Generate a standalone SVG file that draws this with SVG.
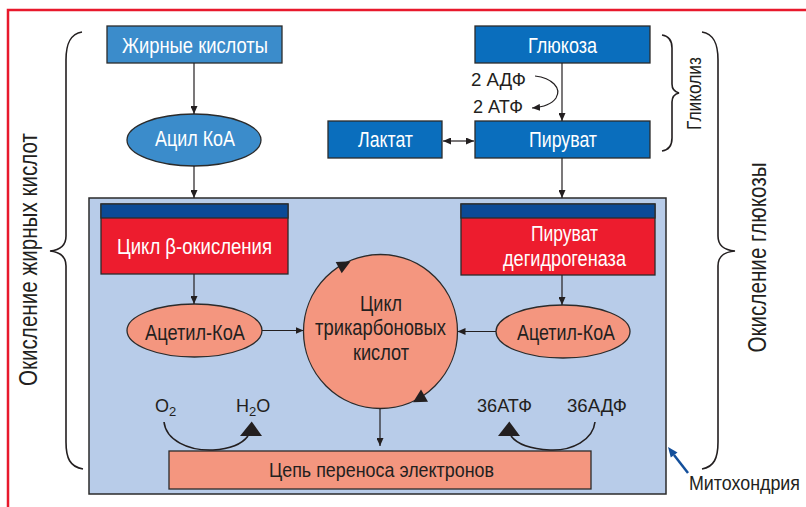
<svg xmlns="http://www.w3.org/2000/svg" width="806" height="507" viewBox="0 0 806 507">
<defs>
<marker id="ah" markerUnits="userSpaceOnUse" markerWidth="8" markerHeight="7" refX="8" refY="3.5" orient="auto-start-reverse">
<path d="M0,0 L8,3.5 L0,7 z" fill="#231f20"/>
</marker>
</defs>
<style>
.t{font-family:"Liberation Sans",Arial,sans-serif;fill:#231f20;text-anchor:middle}
.w{fill:#ffffff}
.s{stroke:#2b2b2b;stroke-width:1.3}
.lb{fill:#3b8ccb}
.db{fill:#0a6ebd}
.nv{fill:#0b4a96}
.rd{fill:#ed1c2e}
.sa{fill:#f4967f}
.ln{fill:none;stroke:#231f20;stroke-width:1.2}
.cv{fill:none;stroke:#231f20;stroke-width:1.6}
.br{fill:none;stroke:#231f20;stroke-width:1.6}
</style>
<rect x="0" y="0" width="806" height="507" fill="#ffffff"/>
<rect x="8" y="10" width="830" height="530" fill="none" stroke="#e8192c" stroke-width="2.5"/>

<g id="braces">
<path class="br" d="M82,32 C70,34 66,44 66,60 L66,236 C66,246 60,250 50,251 C60,252 66,256 66,266 L66,442 C66,458 70,467 83,469"/>
<text class="t" transform="translate(37,259.5) rotate(-90)" font-size="25" textLength="253" lengthAdjust="spacingAndGlyphs">Окисление жирных кислот</text>
<path class="br" d="M702,32 C714,34 718,44 718,60 L718,236 C718,246 724,250 735,251 C724,252 718,256 718,266 L718,442 C718,458 714,467 702,469"/>
<text class="t" transform="translate(766,257.5) rotate(-90)" font-size="25" textLength="190" lengthAdjust="spacingAndGlyphs">Окисление глюкозы</text>
<path class="br" d="M662,35 C669,36 672,41 672,48 L672,84 C672,89 675,92 679,93 C675,94 672,97 672,102 L672,138 C672,145 669,150 662,151"/>
<text class="t" transform="translate(701,93.5) rotate(-90)" font-size="20" textLength="73" lengthAdjust="spacingAndGlyphs">Гликолиз</text>
</g>

<g id="mitochondrion">
<rect x="89" y="198" width="577" height="296" fill="#b8cce9" stroke="#2b2b2b" stroke-width="1.5"/>
</g>

<g id="fatty-acids">
<rect class="lb s" x="107" y="26" width="175" height="37"/>
<text class="t w" x="195" y="52.5" font-size="21.5" textLength="146" lengthAdjust="spacingAndGlyphs">Жирные кислоты</text>
</g>
<g id="acyl-coa">
<ellipse class="lb s" cx="194" cy="140" rx="67" ry="26"/>
<text class="t w" x="195" y="146" font-size="21.5" textLength="80" lengthAdjust="spacingAndGlyphs">Ацил КоА</text>
</g>
<g id="glucose">
<rect class="db s" x="475" y="26" width="175" height="37"/>
<text class="t w" x="562.5" y="52.5" font-size="21.5" textLength="69" lengthAdjust="spacingAndGlyphs">Глюкоза</text>
</g>
<g id="lactate">
<rect class="db s" x="328" y="121" width="114" height="37"/>
<text class="t w" x="385.5" y="147" font-size="21.5" textLength="55" lengthAdjust="spacingAndGlyphs">Лактат</text>
</g>
<g id="pyruvate">
<rect class="db s" x="475" y="121" width="175" height="37"/>
<text class="t w" x="563" y="147" font-size="21.5" textLength="68" lengthAdjust="spacingAndGlyphs">Пируват</text>
</g>
<g id="atp-glycolysis">
<text class="t" x="498.5" y="86" font-size="19" textLength="55" lengthAdjust="spacingAndGlyphs">2 АДФ</text>
<text class="t" x="498" y="113" font-size="19" textLength="50" lengthAdjust="spacingAndGlyphs">2 АТФ</text>
</g>

<g id="beta-oxidation">
<rect class="rd s" x="101" y="204" width="187" height="70"/>
<rect class="nv s" x="101" y="204" width="187" height="14"/>
<text class="t w" x="194.5" y="253.5" font-size="21.5" textLength="155" lengthAdjust="spacingAndGlyphs">Цикл β-окисления</text>
</g>
<g id="pdh">
<rect class="rd s" x="461" y="204" width="194" height="71"/>
<rect class="nv s" x="461" y="204" width="194" height="14"/>
<text class="t w" x="564.5" y="240.5" font-size="21.5" textLength="67" lengthAdjust="spacingAndGlyphs">Пируват</text>
<text class="t w" x="564.5" y="265.5" font-size="21.5" textLength="123" lengthAdjust="spacingAndGlyphs">дегидрогеназа</text>
</g>
<g id="acetyl-coa-left">
<ellipse class="sa s" cx="194.5" cy="330.5" rx="67.5" ry="26.5"/>
<text class="t" x="195" y="339.5" font-size="21.5" textLength="100" lengthAdjust="spacingAndGlyphs">Ацетил-КоА</text>
</g>
<g id="acetyl-coa-right">
<ellipse class="sa s" cx="563" cy="331.5" rx="67" ry="26.5"/>
<text class="t" x="566" y="339.5" font-size="21.5" textLength="98" lengthAdjust="spacingAndGlyphs">Ацетил-КоА</text>
</g>
<g id="tca-cycle">
<circle class="sa s" cx="380.5" cy="331.5" r="77"/>
<polygon points="335.7,262 350.7,261.3 341.7,273.3" fill="#231f20"/>
<polygon points="421,389.5 413,402.3 428,401.7" fill="#231f20"/>
<text class="t" x="381" y="311" font-size="22" textLength="42" lengthAdjust="spacingAndGlyphs">Цикл</text>
<text class="t" x="380.5" y="335" font-size="22" textLength="131" lengthAdjust="spacingAndGlyphs">трикарбоновых</text>
<text class="t" x="381" y="360" font-size="22" textLength="56" lengthAdjust="spacingAndGlyphs">кислот</text>
</g>
<g id="etc">
<rect class="sa s" x="169" y="451" width="422" height="38"/>
<text class="t" x="381.5" y="477" font-size="21" textLength="225" lengthAdjust="spacingAndGlyphs">Цепь переноса электронов</text>
</g>
<g id="o2-h2o">
<text class="t" x="155" y="412" font-size="18" style="text-anchor:start">O<tspan font-size="13" dy="4">2</tspan></text>
<text class="t" x="236" y="412" font-size="18" style="text-anchor:start">H<tspan font-size="13" dy="4">2</tspan><tspan dy="-4">O</tspan></text>
<path class="cv" d="M164,422 C166,440 188,451 213,450 C230,449 242,444 248,436"/>
<polygon points="251.7,421.5 240,436 262,436" fill="#231f20"/>
</g>
<g id="atp-adp">
<text class="t" x="504.5" y="412" font-size="19" textLength="55" lengthAdjust="spacingAndGlyphs">36АТФ</text>
<text class="t" x="597" y="412" font-size="19" textLength="60" lengthAdjust="spacingAndGlyphs">36АДФ</text>
<path class="cv" d="M595,422 C593,440 572,451 550,450 C530,449 517,444 511,436"/>
<polygon points="509.3,421.5 498,436 520,436" fill="#231f20"/>
</g>
<g id="mito-label">
<line x1="688" y1="473" x2="674" y2="455" stroke="#134f9b" stroke-width="2.5"/>
<polygon points="668,447 677.5,452.5 670.8,457.5" fill="#134f9b"/>
<text class="t" x="744.5" y="490" font-size="19.5" textLength="111" lengthAdjust="spacingAndGlyphs">Митохондрия</text>
</g>

<g id="connectors">
<line class="ln" x1="194" y1="63" x2="194" y2="114" marker-end="url(#ah)"/>
<line class="ln" x1="194" y1="166" x2="194" y2="198" marker-end="url(#ah)"/>
<line class="ln" x1="562" y1="63" x2="562" y2="121" marker-end="url(#ah)"/>
<line class="ln" x1="443" y1="141" x2="474" y2="141" marker-start="url(#ah)" marker-end="url(#ah)"/>
<line class="ln" x1="562" y1="158" x2="562" y2="198" marker-end="url(#ah)"/>
<line class="ln" x1="194" y1="274" x2="194" y2="304" marker-end="url(#ah)"/>
<line class="ln" x1="562" y1="275" x2="562" y2="305" marker-end="url(#ah)"/>
<line class="ln" x1="262" y1="330.5" x2="303.5" y2="330.5" marker-end="url(#ah)"/>
<line class="ln" x1="496" y1="331.5" x2="457.5" y2="331.5" marker-end="url(#ah)"/>
<line class="ln" x1="380" y1="408.5" x2="380" y2="446" marker-end="url(#ah)"/>
<path class="ln" d="M535,76 C552,78 562,88 556,98 C552,104 545,107 532,108" marker-end="url(#ah)"/>
</g>
</svg>
